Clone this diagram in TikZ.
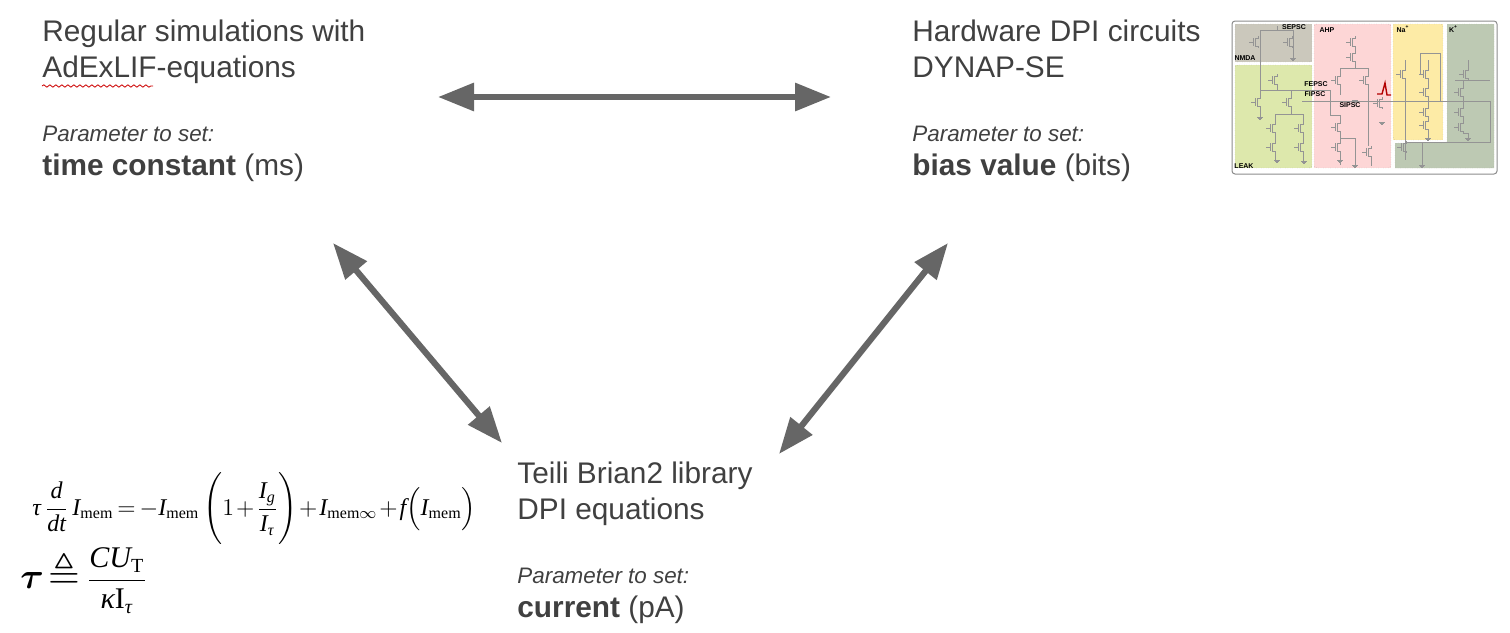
\documentclass[tikz,border=0pt]{standalone}
\usepackage{amsmath,amssymb}
\usepackage{graphicx}
\usepackage[no-math]{fontspec}
\setmainfont{Liberation Sans}
\newfontfamily\timesfont{Liberation Serif}
\usetikzlibrary{arrows.meta,positioning,decorations.pathmorphing}
\definecolor{txtgray}{HTML}{404040}
\definecolor{arrowgray}{HTML}{666666}
\definecolor{nmdacol}{HTML}{CBC8BC}
\definecolor{leakcol}{HTML}{DDE8AC}
\definecolor{ahpcol}{HTML}{FDD6D6}
\definecolor{nacol}{HTML}{FDEBA6}
\definecolor{kcol}{HTML}{BDC9B3}
\tikzset{
    >={Triangle[length=18pt,width=13.5pt]},
    block/.style={anchor=north west,align=left,inner sep=0pt,text=txtgray,
        font=\fontsize{14.9}{18}\selectfont},
    swap/.style={<->,draw=arrowgray,line width=3.1pt},
    regionbox/.style={rounded corners=1.5pt,densely dotted,draw=gray!70,line width=0.2pt},
    wire/.style={draw=black!42,line width=0.35pt},
    tag/.style={inner sep=0pt,font=\bfseries\fontsize{3.5}{4}\selectfont},
    eqn/.style={inner sep=0pt,anchor=base west,text=black,font=\fontsize{12}{14}\selectfont},
    mosfet/.pic={
        \draw[wire] (0,-6) -- (0,-4) -- (-3,-4) -- (-3,4) -- (0,4) -- (0,6);
        \draw[wire] (-4.5,-4) -- (-4.5,4) (-4.5,0) -- (-9,0);
    },
    earth/.pic={
        \draw[wire] (-3,0) -- (3,0) (-2,1.2) -- (2,1.2) (-1,2.4) -- (1,2.4);
    }
}
\newcommand{\partext}[1]{{\fontsize{11.2}{13}\selectfont\itshape #1}}
\newcommand{\eqvar}[1]{\text{\timesfont\itshape #1}}
\newcommand{\memsub}{\text{\timesfont mem}}
\begin{document}
\begin{tikzpicture}[x=0.5pt,y=-0.5pt]
    \useasboundingbox (0,0) rectangle (1510,632);
    \node[block] (sim) at (42,19.5) {Regular simulations with\\[0pt]AdExLIF-equations\\[14.2pt]
        \partext{Parameter to set:}\\[-1.4pt]\textbf{time constant} (ms)};
    \node[block] (hw) at (912,19.5) {Hardware DPI circuits\\[0pt]DYNAP-SE\\[14.2pt]
        \partext{Parameter to set:}\\[-1.4pt]\textbf{bias value} (bits)};
    \node[block] (lib) at (517,461.5) {Teili Brian2 library\\[0pt]DPI equations\\[14.2pt]
        \partext{Parameter to set:}\\[-1.4pt]\textbf{current} (pA)};
    \coordinate (wavea) at (42,86);
    \coordinate (waveb) at (153,86);
    \draw[red!80!black,line width=0.4pt,decorate,
        decoration={snake,amplitude=0.6pt,segment length=3pt}] (wavea) -- (waveb);
    \coordinate (topa) at (438,97);
    \coordinate (topb) at (831,97);
    \coordinate (lefta) at (333,243);
    \coordinate (leftb) at (502,443);
    \coordinate (righta) at (948,243);
    \coordinate (rightb) at (779,454);
    \draw[swap] (topa) -- (topb);
    \draw[swap] (lefta) -- (leftb);
    \draw[swap] (righta) -- (rightb);
    \node[eqn] (eqmem) at (32,515) {\medmuskip=1.5mu\thickmuskip=3mu$\displaystyle \eqvar{τ}\,\frac{\eqvar{d}}{\eqvar{dt}}\,\eqvar{I}_{\memsub}
        =-\eqvar{I}_{\memsub}\left(\vrule height 15pt depth 15pt width 0pt 1+\frac{\eqvar{I}_{\eqvar{g}}}{\eqvar{I}_{\eqvar{τ}}}\right)+\eqvar{I}_{\memsub\infty}
        +\eqvar{f}\Bigl(\eqvar{I}_{\memsub}\Bigr)$};
    \node[eqn] (eqtau) at (20,588) {\scalebox{1.5}{$\boldsymbol{\tau}$}\,\scalebox{1.7}{$\triangleq$}\;\scalebox{1.25}{$\displaystyle
        \frac{\eqvar{CU}_{\text{\timesfont T}}}{\text{\timesfont\itshape κ\upshape I}_{\eqvar{τ}}}$}};
    \draw[draw=black!45,line width=0.5pt,rounded corners=1.5pt] (1232,21) rectangle (1497,174);
    \fill[nmdacol] (1235,24) rectangle (1312,62);
    \draw[regionbox] (1235,24) rectangle (1312,62);
    \fill[leakcol] (1235,65) rectangle (1312,168);
    \draw[regionbox] (1235,65) rectangle (1312,168);
    \fill[ahpcol] (1314,24) rectangle (1391,168);
    \draw[regionbox] (1314,24) rectangle (1391,168);
    \fill[nacol] (1393,24) rectangle (1443,140);
    \draw[regionbox] (1393,24) rectangle (1443,140);
    \fill[kcol] (1447,24) -- (1494,24) -- (1494,168) -- (1395,168) -- (1395,143) -- (1447,143) -- cycle;
    \draw[regionbox] (1447,24) -- (1494,24) -- (1494,168) -- (1395,168) -- (1395,143) -- (1447,143) -- cycle;
    \foreach \px/\py in {1258/42,1292/42,1277/80,1260/102,1291/102,1275/128,1303/128,1275/147,1303/147,
            1355/42,1355/57,1340/80,1368/80,1340/127,1340/147,1371/152,1382/103,
            1405/74,1428/74,1428/92,1428/112,1428/125,
            1468/74,1463/92,1463/112,1463/127,1406/147}
        \pic at (\px,\py) {mosfet};
    \foreach \px/\py in {1260/117,1293/58,1277/160,1304/161,1340/160,1355/100,1382/122,1428/138,1468/138,1422/165,1355/165}
        \pic at (\px,\py) {earth};
    \draw[wire] (1260,30) -- (1293,30) (1277,26) -- (1277,30);
    \draw[wire] (1260,30) -- (1260,96) (1293,30) -- (1293,58);
    \draw[wire] (1260,108) -- (1260,117) (1291,96) -- (1291,90);
    \draw[wire] (1260,90) -- (1330,90) -- (1330,115) -- (1340,115) -- (1340,121);
    \draw[wire] (1277,86) -- (1277,90) (1291,108) -- (1291,114) -- (1275,114) -- (1275,122);
    \draw[wire] (1291,114) -- (1303,114) -- (1303,122) (1275,134) -- (1275,141) (1303,134) -- (1303,141);
    \draw[wire] (1275,153) -- (1275,160) (1303,153) -- (1303,161);
    \draw[wire] (1302,101) -- (1490,101) -- (1490,142) -- (1406,142);
    \draw[wire] (1355,48) -- (1355,51) (1355,63) -- (1355,68) (1340,68) -- (1368,68);
    \draw[wire] (1340,68) -- (1340,74) (1340,86) -- (1340,95) (1368,68) -- (1368,74) (1368,86) -- (1368,146);
    \draw[wire] (1340,133) -- (1340,141) (1340,153) -- (1340,165) (1340,138) -- (1355,138) -- (1355,165);
    \draw[wire] (1371,158) -- (1371,166);
    \draw[wire] (1405,68) -- (1405,60) (1428,68) -- (1428,60) (1405,80) -- (1405,160) (1420,74) -- (1420,53) -- (1440,53) -- (1440,101);
    \draw[wire] (1428,80) -- (1428,86) (1428,98) -- (1428,106) (1428,118) -- (1428,119) (1428,131) -- (1428,138);
    \draw[wire] (1468,60) -- (1468,68) (1468,80) -- (1463,80) -- (1463,86) (1463,98) -- (1463,106) (1463,118) -- (1463,121);
    \draw[wire] (1463,133) -- (1468,133) -- (1468,138) (1455,80) -- (1490,80);
    \draw[wire] (1422,142) -- (1422,165);
    \node[tag] (sepsc) at (1294,27) {SEPSC};
    \node[tag] (nmda) at (1245,58) {NMDA};
    \node[tag] (leak) at (1244,166) {LEAK};
    \node[tag] (fepsc) at (1316,84) {FEPSC};
    \node[tag] (fipsc) at (1315,94) {FIPSC};
    \node[tag] (ahp) at (1327,30) {AHP};
    \node[tag] (sipsc) at (1350,105) {SIPSC};
    \node[tag] (na) at (1403,29) {Na\textsuperscript{+}};
    \node[tag] (kplus) at (1453.5,29) {K\textsuperscript{+}};
    \draw[red!70!black,line width=0.7pt] (1377,94) -- (1382,94) -- (1385,83) -- (1387,95) -- (1391,95);
\end{tikzpicture}
\end{document}
